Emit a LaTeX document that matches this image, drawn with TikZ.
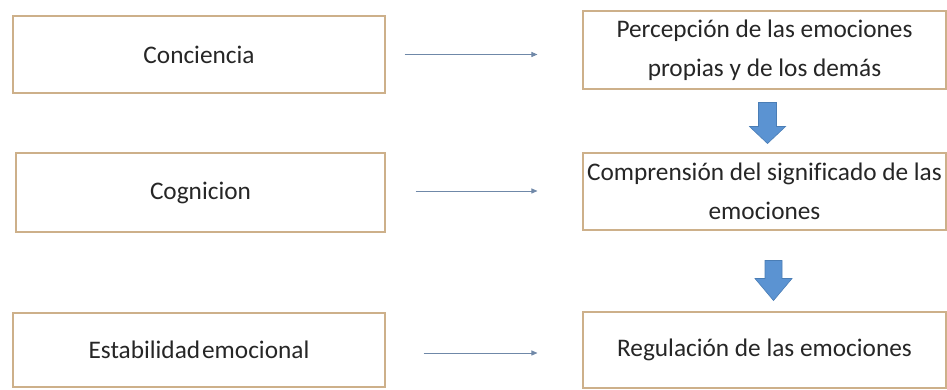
\documentclass[tikz,border=0pt]{standalone}
\usepackage{fontspec}
\setmainfont[Ligatures=NoCommon]{Carlito}
\usetikzlibrary{arrows.meta,calc}
\definecolor{boxline}{HTML}{CDB08A}
\definecolor{thinarrow}{HTML}{6F88A8}
\definecolor{blockfill}{HTML}{5B93D2}
\definecolor{blockline}{HTML}{4A7DB5}
\definecolor{txt}{HTML}{262626}
\tikzset{
  box/.style={draw=boxline, line width=1.1pt, fill=white, text=txt, align=center,
    font=\fontsize{25.3}{39}\selectfont, inner sep=0pt},
  thin/.style={draw=thinarrow, line width=0.9pt, -{Triangle[length=6pt,width=5pt]}},
  block/.style={fill=blockfill, draw=blockline, line width=0.6pt}
}
\begin{document}
\begin{tikzpicture}[x=1pt,y=1pt]
\useasboundingbox (0,0) rectangle (947,390);
% left boxes (y measured from top: y_tikz = 390 - y_px)
\node[box, minimum width=372pt, minimum height=77pt] (c) at (199,{390-54.5}) {Conciencia};
\node[box, minimum width=369pt, minimum height=79pt] (g) at (200.5,{390-192.5}) {Cognicion};
\node[box, minimum width=372pt, minimum height=74pt] (e) at (199,{390-350}) {Estabilidad\hspace{2pt}emocional};
% right boxes
\node[box, minimum width=363pt, minimum height=78pt] (p) at (764.5,{390-50}) {Percepción de las emociones\\propias y de los demás};
\node[box, minimum width=363pt, minimum height=77pt] (s) at (764.5,{390-191.5}) {Comprensión del significado de las\\emociones};
\node[box, minimum width=363pt, minimum height=76pt] (r) at (764.5,{390-350}) {Regulación de las emociones};
% thin arrows
\draw[thin] ([xshift=19pt]c.east) -- ([xshift=-45pt]c.east -| p.west);
\draw[thin] ([xshift=30pt,yshift=1.5pt]g.east) -- ([xshift=-45pt,yshift=1.5pt]g.east -| s.west);
\draw[thin] ([xshift=38pt,yshift=-3pt]e.east) -- ([xshift=-45pt,yshift=-3pt]e.east -| r.west);
% block arrows
\coordinate (a1) at ($(p.south)+(3,-13)$);
\coordinate (a2) at ($(s.south)+(9,-30)$);
\path[block] (a1) ++(-9,0) -- ++(18,0) -- ++(0,-24) -- ++(9,0) -- ++(-18,-17) -- ++(-18,17) -- ++(9,0) -- cycle;
\path[block] (a2) ++(-8.5,0) -- ++(17,0) -- ++(0,-18) -- ++(10,0) -- ++(-18.5,-22) -- ++(-18.5,22) -- ++(10,0) -- cycle;
\end{tikzpicture}
\end{document}
